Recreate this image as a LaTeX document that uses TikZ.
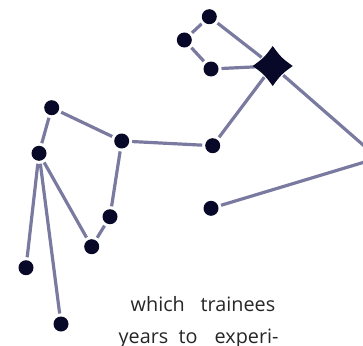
\documentclass[tikz,border=0pt]{standalone}
\usepackage{fontspec}
\setmainfont{Open Sans}
\definecolor{edgec}{RGB}{122,122,160}
\definecolor{dotc}{RGB}{8,8,40}
\tikzset{
  dot/.style={circle,fill=dotc,minimum size=15pt,inner sep=0pt,outer sep=3pt},
  starnode/.style={circle,minimum size=28pt,inner sep=0pt,outer sep=0pt},
  link/.style={draw=edgec,line width=3.2pt},
  word/.style={anchor=base west,inner sep=0pt,font=\fontsize{19.8}{24}\selectfont,text=black!85}
}
\begin{document}
\begin{tikzpicture}[x=1pt,y=-1pt]
\useasboundingbox (0,0) rectangle (363,345);
\clip (0,0) rectangle (363,345);
\node[dot] (A) at (209.3,16.7) {};
\node[dot] (B) at (184.3,40) {};
\node[dot] (C) at (211,69) {};
\node[starnode] (S) at (272.7,66) {};
\node[dot] (D) at (212.7,145.7) {};
\node[dot] (E) at (121.7,141) {};
\node[dot] (F) at (51.7,107.7) {};
\node[dot] (G) at (39,153.3) {};
\node[dot] (H) at (110,216.7) {};
\node[dot] (I) at (91.7,246.7) {};
\node[dot] (J) at (26,267.7) {};
\node[dot] (K) at (61,324) {};
\node[dot] (L) at (211,208.3) {};
\coordinate (P) at (378,158);
\draw[link] (A) -- (B);
\draw[link] (B) -- (C);
\draw[link] (C) -- (S);
\draw[link] (A) -- (S);
\draw[link] (S) -- (D);
\draw[link] (D) -- (E);
\draw[link] (E) -- (F);
\draw[link] (F) -- (G);
\draw[link] (G) -- (J);
\draw[link] (G) -- (K);
\draw[link] (G) -- (I);
\draw[link] (I) -- (H);
\draw[link] (H) -- (E);
\draw[link] (S) -- (P) -- (L);
\fill[dotc] (S.center) ++(-20,0) .. controls ++(10.5,-7.5) and ++(-7.5,10.5) .. ++(20,-20)
  .. controls ++(7.5,10.5) and ++(-10.5,-7.5) .. ++(20,20)
  .. controls ++(-10.5,7.5) and ++(7.5,-10.5) .. ++(-20,20)
  .. controls ++(-7.5,-10.5) and ++(10.5,7.5) .. cycle;
\node[word] (w1) at (130.5,311) {which};
\node[word] (w2) at (200.5,311) {trainees};
\node[word] (w3) at (118.5,343) {years};
\node[word] (w4) at (178.5,343) {to};
\node[word] (w5) at (214.5,343) {experi-};
\end{tikzpicture}
\end{document}
